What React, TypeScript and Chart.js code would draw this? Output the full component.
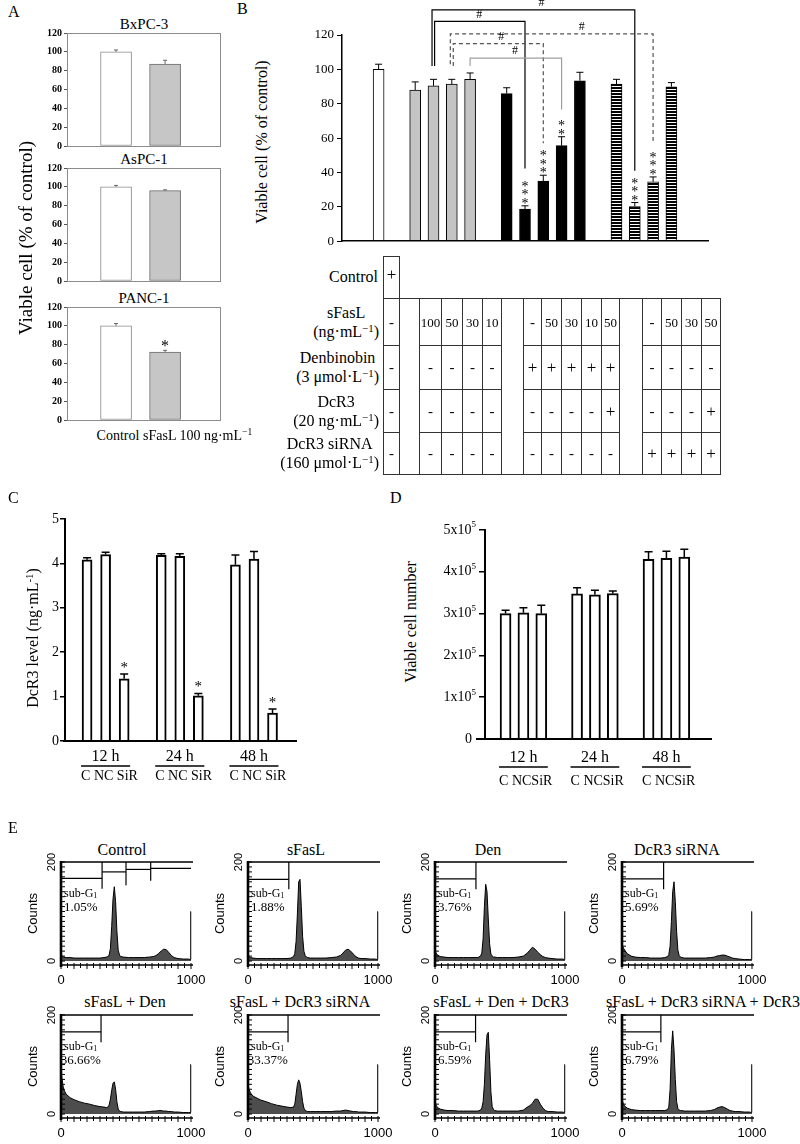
import React, { useEffect, useRef } from 'react';
import { Chart, registerables } from 'chart.js';

Chart.register(...registerables);

const SERIF = '"Liberation Serif", "Times New Roman", Times, serif';
const SANS = '"Liberation Sans", Arial, Helvetica, sans-serif';

// ---------------- Panel A data ----------------
const aCellLines = ['BxPC-3', 'AsPC-1', 'PANC-1'];
const aBxPC3 = [100, 87];
const aBxPC3Err = [2, 4];
const aAsPC1 = [100, 96];
const aAsPC1Err = [1.5, 0.8];
const aPANC1 = [100, 72];
const aPANC1Err = [2.5, 2];
const aPANC1Stars = ['', '*'];
const aNoStars = ['', ''];

// ---------------- Panel B data ----------------
const bSlots = ['g0', 'g1', 'Control', 'g3', 'sFasL 100', 'sFasL 50', 'sFasL 30', 'sFasL 10', 'g8', 'Den', 'Den+sFasL 50', 'Den+sFasL 30', 'Den+sFasL 10', 'Den+sFasL 50+DcR3', 'g14', 'siRNA', 'siRNA+sFasL 50', 'siRNA+sFasL 30', 'siRNA+sFasL 50+DcR3', 'g19', 'g20'];
const bValues = [null, null, 100, null, 88, 90.4, 91.4, 94.2, null, 85.9, 18.7, 35, 55.6, 93.4, null, 91.5, 20.2, 34.6, 89.9, null, null];
const bErrors = [null, null, 3, null, 4.7, 3.8, 2.8, 3.7, null, 3.4, 1.9, 3.4, 5.2, 4.9, null, 2.7, 2.3, 2.8, 2.4, null, null];
const bKinds = ['', '', 'control', '', 'sfasl', 'sfasl', 'sfasl', 'sfasl', '', 'den', 'den', 'den', 'den', 'den', '', 'sirna', 'sirna', 'sirna', 'sirna', '', ''];
const bStars = ['', '', '', '', '', '', '', '', '', '', '***', '***', '**', '', '', '', '***', '***', '', '', ''];
const bBrackets = [
  { from: 4.92, to: 16, top: 134.6, fromEnd: 102, toEnd: 41, dash: false, color: '#000000', hashAt: 10.9 },
  { from: 5.06, to: 10, top: 127.9, fromEnd: 102, toEnd: 42.3, dash: false, color: '#000000', hashAt: 7.5 },
  { from: 5.92, to: 17, top: 120.6, fromEnd: 103, toEnd: 57, dash: true, color: '#555555', hashAt: 13.1 },
  { from: 6.08, to: 11, top: 115, fromEnd: 102, toEnd: 57, dash: true, color: '#555555', hashAt: 8.7 },
  { from: 7, to: 12, top: 106.5, fromEnd: 102, toEnd: 76.6, dash: false, color: '#a0a0a0', hashAt: 9.45 },
];

// table under panel B
const tRowNames = ['sFasL', 'Denbinobin', 'DcR3', 'DcR3 siRNA'];
const tRowUnits = ['(ng·mL', '(3 μmol·L', '(20 ng·mL', '(160 μmol·L'];
const tSFasL = ['-', '', '100', '50', '30', '10', '', '-', '50', '30', '10', '50', '', '-', '50', '30', '50'];
const tDen = ['-', '', '-', '-', '-', '-', '', '+', '+', '+', '+', '+', '', '-', '-', '-', '-'];
const tDcR3 = ['-', '', '-', '-', '-', '-', '', '-', '-', '-', '-', '+', '', '-', '-', '-', '+'];
const tSiRNA = ['-', '', '-', '-', '-', '-', '', '-', '-', '-', '-', '-', '', '+', '+', '+', '+'];
const tGapCols = [1, 6, 12];
const tCols = [383, 399, 419, 441, 462, 482, 501, 523, 541, 561, 581, 601, 619, 642, 661, 681, 701, 720];
const tRows = [298, 345, 389, 432, 474];
const tCtrlTop = 256;

// ---------------- Panel C data ----------------
const cGroups = ['12 h', '24 h', '48 h'];
const cLevel12 = [4.08, 4.2, 1.4];
const cLevel24 = [4.18, 4.16, 1.02];
const cLevel48 = [3.97, 4.1, 0.63];
const cErr12 = [0.05, 0.05, 0.11];
const cErr24 = [0.04, 0.06, 0.05];
const cErr48 = [0.22, 0.17, 0.09];
const cStars = ['', '', '*', '', '', '*', '', '', '*'];

// ---------------- Panel D data (x 10^5 cells) ----------------
const dCount12 = [3.0, 3.02, 3.0];
const dCount24 = [3.47, 3.45, 3.48];
const dCount48 = [4.3, 4.32, 4.35];
const dErr12 = [0.08, 0.12, 0.2];
const dErr24 = [0.15, 0.11, 0.06];
const dErr48 = [0.18, 0.17, 0.19];
const dNoStars = ['', '', '', '', '', '', '', '', ''];

// ---------------- Panel E data ----------------
const eTitles = ['Control', 'sFasL', 'Den', 'DcR3 siRNA', 'sFasL + Den', 'sFasL + DcR3 siRNA', 'sFasL + Den + DcR3', 'sFasL + DcR3 siRNA + DcR3'];
const eSubG1 = ['1.05%', '1.88%', '3.76%', '5.69%', '36.66%', '33.37%', '6.59%', '6.79%'];
const eChannels = [0, 8, 20, 40, 70, 100, 140, 180, 220, 260, 300, 330, 350, 360, 370, 380, 390, 400, 410, 420, 430, 440, 450, 460, 480, 520, 560, 600, 640, 680, 710, 730, 750, 770, 790, 810, 830, 850, 870, 900, 940, 980, 996, 998, 1000];
const eControl = [12, 10, 8, 7, 7, 6, 6, 6, 6, 6, 6, 7, 8, 9, 12, 25, 70, 125, 150, 120, 60, 22, 12, 9, 8, 7, 7, 7, 7, 8, 9, 11, 15, 20, 24, 23, 17, 11, 7, 5, 4, 4, 3, 100, 100];
const eSFasL = [12, 9, 7, 6, 5, 5, 5, 5, 5, 5, 5, 6, 9, 15, 40, 95, 160, 165, 110, 50, 20, 11, 8, 7, 6, 6, 6, 6, 7, 8, 11, 16, 22, 24, 20, 14, 9, 6, 5, 5, 4, 4, 3, 100, 100];
const eDen = [22, 16, 12, 9, 8, 7, 7, 7, 7, 7, 7, 7, 10, 16, 45, 110, 155, 140, 85, 35, 14, 10, 8, 8, 7, 7, 7, 7, 8, 10, 16, 22, 28, 24, 18, 13, 9, 7, 6, 5, 4, 4, 3, 100, 100];
const eSiRNA = [35, 28, 22, 15, 10, 8, 7, 7, 6, 6, 6, 7, 9, 13, 30, 80, 140, 160, 120, 60, 22, 11, 8, 7, 6, 6, 6, 6, 6, 7, 8, 10, 11, 12, 12, 10, 8, 6, 5, 4, 3, 3, 3, 100, 100];
const eSFasLDen = [88, 70, 50, 40, 33, 29, 25, 22, 20, 17, 15, 14, 13, 14, 18, 30, 48, 62, 65, 50, 25, 10, 6, 5, 4, 4, 4, 4, 4, 5, 6, 6, 7, 7, 6, 6, 5, 5, 4, 4, 3, 3, 3, 100, 100];
const eSFasLSiRNA = [60, 50, 42, 36, 32, 28, 25, 21, 18, 16, 14, 13, 14, 20, 40, 60, 69, 62, 45, 25, 12, 7, 6, 5, 5, 5, 5, 5, 5, 6, 6, 7, 8, 7, 6, 5, 5, 4, 4, 4, 3, 3, 3, 100, 100];
const eSFasLDenDcR3 = [25, 18, 13, 10, 8, 7, 7, 6, 6, 6, 6, 6, 8, 12, 25, 60, 120, 160, 165, 110, 45, 15, 9, 7, 6, 6, 6, 6, 6, 8, 14, 17, 22, 30, 30, 20, 12, 7, 5, 5, 4, 4, 3, 100, 100];
const eSFasLSiRNADcR3 = [30, 22, 16, 12, 9, 8, 7, 7, 7, 7, 7, 7, 9, 14, 50, 130, 168, 130, 70, 25, 11, 8, 7, 7, 6, 6, 6, 6, 6, 7, 9, 12, 14, 15, 13, 10, 7, 6, 5, 5, 4, 4, 3, 100, 100];
const eCounts = [eControl, eSFasL, eDen, eSiRNA, eSFasLDen, eSFasLSiRNA, eSFasLDenDcR3, eSFasLSiRNADcR3];
const eGates = [
  [
    { from: 0, to: 316, h: 167, drop: 146 },
    { from: 316, to: 500, h: 180, drop: 153 },
    { from: 500, to: 690, h: 185, drop: 162 },
    { from: 690, to: 1000, h: 187, drop: null },
  ],
  [{ from: 0, to: 314, h: 165, drop: 145 }],
  [{ from: 0, to: 315, h: 166, drop: 145 }],
  [{ from: 0, to: 320, h: 166, drop: 145 }],
  [{ from: 0, to: 308, h: 166, drop: 145 }],
  [{ from: 0, to: 308, h: 166, drop: 145 }],
  [{ from: 0, to: 312, h: 166, drop: 145 }],
  [{ from: 0, to: 299, h: 166, drop: 145 }],
];

// ---------------- layout ----------------
const aBoxTops = [33, 168, 307];
const aBoxH = 113;
const eBoxLefts = [61, 248, 435, 622];
const eBoxTops = [862, 1015];
const eTitleX = [122, 306, 488, 677, 125, 300, 501, 703];
const eTitleY = [850, 1002];

// ---------------- helpers ----------------
const baseOptions = () => ({
  responsive: false,
  maintainAspectRatio: false,
  animation: false,
  devicePixelRatio: 1,
  events: [],
  plugins: { legend: { display: false }, tooltip: { enabled: false }, title: { display: false } },
});

function errorPlugin(values: any[], errs: any[], o: any) {
  return {
    id: 'errbars',
    afterDatasetsDraw(chart: any) {
      const ctx = chart.ctx;
      const ys = chart.scales.y;
      const meta = chart.getDatasetMeta(0);
      ctx.save();
      values.forEach((v: any, i: number) => {
        if (v == null) return;
        const el = meta.data[i];
        if (!el) return;
        const bx = el.x;
        const e = errs[i] || 0;
        const y0 = ys.getPixelForValue(v);
        const yt = ys.getPixelForValue(v + e);
        if (e) {
          ctx.strokeStyle = o.color;
          ctx.lineWidth = o.lw;
          ctx.beginPath();
          ctx.moveTo(bx, y0);
          ctx.lineTo(bx, yt);
          ctx.moveTo(bx - o.cap / 2, yt);
          ctx.lineTo(bx + o.cap / 2, yt);
          ctx.stroke();
        }
        const s = o.stars ? o.stars[i] : '';
        if (s) {
          ctx.fillStyle = '#000';
          ctx.font = o.starFont;
          ctx.textAlign = 'center';
          ctx.textBaseline = 'alphabetic';
          const m = ctx.measureText('*');
          const off = (m.actualBoundingBoxAscent - m.actualBoundingBoxDescent) / 2;
          for (let k = 0; k < s.length; k++) {
            const cy = yt - o.starGap - k * o.starStep;
            ctx.fillText('*', bx, cy + off);
          }
        }
      });
      ctx.restore();
    },
  };
}

const framePlugin = (color: string) => ({
  id: 'frame',
  afterDraw(chart: any) {
    const { ctx, chartArea: a } = chart;
    ctx.save();
    ctx.strokeStyle = color;
    ctx.lineWidth = 1;
    ctx.strokeRect(a.left + 0.5, a.top + 0.5, a.right - a.left - 1, a.bottom - a.top);
    ctx.restore();
  },
});

function makeStripePattern(): any {
  const c = document.createElement('canvas');
  c.width = 4;
  c.height = 3;
  const g = c.getContext('2d');
  if (!g) return '#555';
  g.fillStyle = '#ffffff';
  g.fillRect(0, 0, 4, 3);
  g.fillStyle = '#000000';
  g.fillRect(0, 0, 4, 2);
  return g.createPattern(c, 'repeat') || '#555';
}

function ChartCanvas({ x, y, w, h, build }: { x: number; y: number; w: number; h: number; build: () => any }) {
  const ref = useRef<HTMLCanvasElement | null>(null);
  useEffect(() => {
    if (!ref.current) return;
    const chart = new Chart(ref.current, build());
    return () => chart.destroy();
  }, []);
  return (
    <div style={{ position: 'absolute', left: x, top: y, width: w, height: h }}>
      <canvas ref={ref} width={w} height={h} style={{ width: w, height: h, display: 'block' }} />
    </div>
  );
}

const Sup = ({ c }: { c: string }) => (
  <sup style={{ fontSize: '0.68em', verticalAlign: '0.5em', lineHeight: 0 }}>{c}</sup>
);

function Txt({ x, y, children, size = 14, family = SERIF, align = 'center', rotate = false }: any) {
  const tx = align === 'left' ? '0' : align === 'right' ? '-100%' : '-50%';
  const style: any = {
    position: 'absolute',
    left: x,
    top: y,
    whiteSpace: 'nowrap',
    lineHeight: 1,
    fontSize: size,
    fontFamily: family,
    color: '#000',
    transform: rotate ? 'translate(-50%, -50%) rotate(-90deg)' : `translate(${tx}, -50%)`,
  };
  return <div style={style}>{children}</div>;
}

// ---------------- Panel A ----------------
function buildA(values: number[], errs: number[], stars: string[]) {
  return {
    type: 'bar',
    data: {
      datasets: [
        {
          data: values.map((v, i) => ({ x: i + 1, y: v })),
          backgroundColor: ['#ffffff', '#c6c6c6'],
          borderColor: ['#8a8a8a', '#6a6a6a'],
          borderWidth: 1,
          borderSkipped: false,
          barThickness: 31,
        },
      ],
    },
    options: {
      ...baseOptions(),
      layout: { padding: { left: 42, right: 19, top: 8, bottom: 8 } },
      scales: {
        x: { type: 'linear', min: 0, max: 3.14, offset: false, display: false },
        y: {
          min: 0,
          max: 120,
          ticks: { stepSize: 20, color: '#000', padding: 2, font: { family: SERIF, size: 10, weight: 'bold' } },
          grid: { drawOnChartArea: false, drawTicks: true, tickLength: 3, color: '#555' },
          border: { display: true, color: '#888', width: 1 },
          afterFit: (s: any) => {
            s.width = 25;
          },
        },
      },
    },
    plugins: [
      framePlugin('#8c8c8c'),
      errorPlugin(values, errs, { cap: 4, color: '#666', lw: 1, stars, starFont: `16px ${SERIF}`, starGap: 7, starStep: 8 }),
    ],
  };
}

// ---------------- Panel B ----------------
const bracketPlugin = {
  id: 'brackets',
  afterDatasetsDraw(chart: any) {
    const { ctx, scales } = chart;
    const x = scales.x;
    const y = scales.y;
    ctx.save();
    bBrackets.forEach((b) => {
      const xl = x.getPixelForValue(b.from);
      const xr = x.getPixelForValue(b.to);
      const yt = y.getPixelForValue(b.top);
      ctx.strokeStyle = b.color;
      ctx.lineWidth = 1.2;
      ctx.setLineDash(b.dash ? [4, 3] : []);
      ctx.beginPath();
      ctx.moveTo(xl, y.getPixelForValue(b.fromEnd));
      ctx.lineTo(xl, yt);
      ctx.lineTo(xr, yt);
      ctx.lineTo(xr, y.getPixelForValue(b.toEnd));
      ctx.stroke();
      ctx.setLineDash([]);
      ctx.fillStyle = '#000';
      ctx.font = `12px ${SERIF}`;
      ctx.textAlign = 'center';
      ctx.textBaseline = 'bottom';
      ctx.fillText('#', x.getPixelForValue(b.hashAt), yt - 1);
    });
    ctx.restore();
  },
};

function buildB() {
  const stripe = makeStripePattern();
  const fills = bKinds.map((k) =>
    k === 'control' ? '#ffffff' : k === 'sfasl' ? '#c4c4c4' : k === 'den' ? '#000000' : k === 'sirna' ? stripe : 'rgba(0,0,0,0)'
  );
  return {
    type: 'bar',
    data: {
      labels: bSlots,
      datasets: [
        { data: bValues, backgroundColor: fills, borderColor: '#000', borderWidth: 1, borderSkipped: false, barThickness: 11 },
      ],
    },
    options: {
      ...baseOptions(),
      layout: { padding: { left: 80, right: 92, top: 35, bottom: 4 } },
      scales: {
        x: {
          type: 'category',
          offset: false,
          ticks: { display: false },
          grid: { display: false, drawTicks: false },
          border: { display: true, color: '#000', width: 1.5 },
          afterFit: (s: any) => {
            s.height = 0;
          },
        },
        y: {
          min: 0,
          max: 120,
          ticks: { stepSize: 20, color: '#000', padding: 3, font: { family: SERIF, size: 13 } },
          grid: { drawOnChartArea: false, drawTicks: true, tickLength: 5, color: '#000' },
          border: { display: true, color: '#000', width: 1.5 },
          afterFit: (s: any) => {
            s.width = 30;
          },
        },
      },
    },
    plugins: [
      errorPlugin(bValues, bErrors, { cap: 7, color: '#000', lw: 1, stars: bStars, starFont: `14px ${SERIF}`, starGap: 5, starStep: 8.5 }),
      bracketPlugin,
    ],
  };
}

function TableB() {
  const els: any[] = [];
  const ln = (x: number, y: number, w: number, h: number, key: string) => (
    <div key={key} style={{ position: 'absolute', left: x, top: y, width: w, height: h, background: '#333' }} />
  );
  const last = tCols.length - 1;
  els.push(ln(tCols[0], tCtrlTop, tCols[1] - tCols[0] + 1, 1, 'ct'));
  els.push(ln(tCols[0], tCtrlTop, 1, tRows[0] - tCtrlTop, 'cl'));
  els.push(ln(tCols[1], tCtrlTop, 1, tRows[0] - tCtrlTop, 'cr'));
  tCols.forEach((c, i) => els.push(ln(c, tRows[0], 1, tRows[4] - tRows[0] + 1, 'v' + i)));
  els.push(ln(tCols[0], tRows[0], tCols[last] - tCols[0] + 1, 1, 'top'));
  els.push(ln(tCols[0], tRows[4], tCols[last] - tCols[0] + 1, 1, 'bot'));
  for (let r = 1; r <= 3; r++) {
    for (let j = 0; j < last; j++) {
      if (tGapCols.includes(j)) continue;
      els.push(ln(tCols[j], tRows[r], tCols[j + 1] - tCols[j], 1, `h${r}-${j}`));
    }
  }
  const rowsData = [tSFasL, tDen, tDcR3, tSiRNA];
  rowsData.forEach((row, r) => {
    row.forEach((t, j) => {
      if (!t) return;
      const cx = (tCols[j] + tCols[j + 1]) / 2 + 0.5;
      const cy = (tRows[r] + tRows[r + 1]) / 2;
      const size = t === '+' ? 17 : t === '-' ? 15 : 13;
      els.push(
        <Txt key={`c${r}-${j}`} x={cx} y={cy} size={size}>
          {t}
        </Txt>
      );
    });
  });
  els.push(
    <Txt key="ctrlplus" x={(tCols[0] + tCols[1]) / 2 + 0.5} y={(tCtrlTop + tRows[0]) / 2 - 3} size={17}>
      +
    </Txt>
  );
  els.push(
    <Txt key="ctrllab" x={378} y={(tCtrlTop + tRows[0]) / 2} size={16} align="right">
      Control
    </Txt>
  );
  tRowNames.forEach((n, r) => {
    els.push(
      <div
        key={'rl' + r}
        style={{
          position: 'absolute',
          left: 379,
          top: (tRows[r] + tRows[r + 1]) / 2,
          transform: 'translate(-100%, -50%)',
          textAlign: 'center',
          fontSize: 16,
          lineHeight: '19px',
          whiteSpace: 'nowrap',
          fontFamily: SERIF,
        }}
      >
        {n}
        <br />
        {tRowUnits[r]}
        <Sup c="−1" />)
      </div>
    );
  });
  return <>{els}</>;
}

// ---------------- Panels C & D ----------------
function groupedPlugin(o: any) {
  return {
    id: 'grouped',
    afterDraw(chart: any) {
      const { ctx, chartArea: a, scales } = chart;
      const x = scales.x;
      const y = scales.y;
      ctx.save();
      ctx.strokeStyle = '#000';
      ctx.lineWidth = 2;
      ctx.beginPath();
      ctx.moveTo(a.left - o.axisExtend, a.bottom);
      ctx.lineTo(a.right, a.bottom);
      ctx.stroke();
      ctx.fillStyle = '#000';
      const half = o.barW / 2;
      cGroups.forEach((g, gi) => {
        const x1 = x.getPixelForValue(gi * 4 + 1) - half;
        const x3 = x.getPixelForValue(gi * 4 + 3) + half;
        const xm = x.getPixelForValue(gi * 4 + 2);
        ctx.font = `16px ${SERIF}`;
        ctx.textAlign = 'center';
        ctx.textBaseline = 'middle';
        ctx.fillText(g, xm, a.bottom + o.titleDy);
        ctx.lineWidth = 1.5;
        ctx.beginPath();
        ctx.moveTo(x1 - 1, a.bottom + o.lineDy);
        ctx.lineTo(x3 + 1, a.bottom + o.lineDy);
        ctx.stroke();
        ctx.font = `14px ${SERIF}`;
        ctx.textAlign = 'left';
        ctx.fillText(o.subText, x1 - 1, a.bottom + o.subDy);
      });
      if (o.sciLabels) {
        ctx.textBaseline = 'middle';
        for (let v = 0; v <= 5; v++) {
          const py = y.getPixelForValue(v);
          const rx = a.left - 9;
          if (v === 0) {
            ctx.font = `14px ${SERIF}`;
            ctx.textAlign = 'right';
            ctx.fillText('0', rx - 4, py);
            continue;
          }
          ctx.font = `9px ${SERIF}`;
          const sw = ctx.measureText('5').width;
          ctx.textAlign = 'left';
          ctx.fillText('5', rx - sw, py - 5);
          ctx.font = `14px ${SERIF}`;
          ctx.textAlign = 'right';
          ctx.fillText(`${v}x10`, rx - sw, py);
        }
      }
      ctx.restore();
    },
  };
}

function buildGrouped(values: number[], errs: number[], stars: string[], o: any) {
  return {
    type: 'bar',
    data: {
      datasets: [
        {
          data: values.map((v, i) => ({ x: Math.floor(i / 3) * 4 + (i % 3) + 1, y: v })),
          backgroundColor: '#ffffff',
          borderColor: '#000',
          borderWidth: 2,
          borderSkipped: 'start',
          barThickness: o.barW,
        },
      ],
    },
    options: {
      ...baseOptions(),
      layout: { padding: o.padding },
      scales: {
        x: { type: 'linear', min: o.xMin, max: o.xMax, offset: false, display: false },
        y: {
          min: 0,
          max: 5,
          ticks: {
            stepSize: 1,
            color: '#000',
            padding: 1,
            font: { family: SERIF, size: 14 },
            callback: o.sciLabels ? () => '' : (v: any) => String(v),
          },
          grid: { drawOnChartArea: false, drawTicks: true, tickLength: o.tickLen, color: '#000', lineWidth: 1.5 },
          border: { display: true, color: '#000', width: 2 },
          afterFit: (s: any) => {
            s.width = o.axisW;
          },
        },
      },
    },
    plugins: [
      errorPlugin(values, errs, { cap: 8, color: '#000', lw: 1.5, stars, starFont: `15px ${SERIF}`, starGap: 9, starStep: 8 }),
      groupedPlugin(o),
    ],
  };
}

// ---------------- Panel E ----------------
function flowPlugin(pct: string, gates: any[]) {
  return {
    id: 'flow',
    afterDatasetsDraw(chart: any) {
      const { ctx, chartArea: a, scales } = chart;
      const x = scales.x;
      const y = scales.y;
      const yTop = y.getPixelForValue(200);
      const seg = (x1: number, y1: number, x2: number, y2: number, lw: number) => {
        ctx.lineWidth = lw;
        ctx.beginPath();
        ctx.moveTo(x1, y1);
        ctx.lineTo(x2, y2);
        ctx.stroke();
      };
      ctx.save();
      ctx.strokeStyle = '#000';
      seg(a.left, yTop, a.right + 2, yTop, 1.6);
      seg(a.left, a.bottom, a.right + 2, a.bottom, 1.6);
      for (let v = 0; v <= 1000; v += 50) {
        const px = x.getPixelForValue(v);
        seg(px, a.bottom - 2, px, a.bottom + (v % 100 === 0 ? 4 : 3), 1);
      }
      seg(a.left, yTop - 1, a.left, a.bottom + 2, 2.6);
      for (let v = 0; v <= 200; v += 10) {
        const py = y.getPixelForValue(v);
        seg(a.left, py, a.left + 4, py, 1);
      }
      gates.forEach((g: any) => {
        const yh = y.getPixelForValue(g.h);
        seg(x.getPixelForValue(g.from), yh, x.getPixelForValue(g.to), yh, 1.2);
        if (g.drop != null) seg(x.getPixelForValue(g.to), yTop, x.getPixelForValue(g.to), y.getPixelForValue(g.drop), 1.2);
      });
      ctx.fillStyle = '#000';
      ctx.font = `13px ${SANS}`;
      ctx.textAlign = 'center';
      ctx.textBaseline = 'middle';
      ctx.fillText('0', x.getPixelForValue(0), a.bottom + 15);
      ctx.fillText('1000', x.getPixelForValue(1000), a.bottom + 15);
      const rot = (txt: string, cx: number, cy: number, font: string) => {
        ctx.save();
        ctx.translate(cx, cy);
        ctx.rotate(-Math.PI / 2);
        ctx.font = font;
        ctx.textAlign = 'center';
        ctx.textBaseline = 'middle';
        ctx.fillText(txt, 0, 0);
        ctx.restore();
      };
      rot('200', a.left - 9, yTop, `11px ${SANS}`);
      rot('0', a.left - 9, y.getPixelForValue(0), `11px ${SANS}`);
      rot('Counts', a.left - 28, (yTop + a.bottom) / 2, `13px ${SANS}`);
      // sub-G1 label
      const tx = a.left + 3;
      const ty = a.top + 32;
      ctx.textAlign = 'left';
      ctx.font = `12px ${SERIF}`;
      ctx.fillText('sub-G', tx, ty);
      const w = ctx.measureText('sub-G').width;
      ctx.font = `8px ${SERIF}`;
      ctx.fillText('1', tx + w, ty + 2);
      ctx.font = `13px ${SERIF}`;
      ctx.textAlign = 'center';
      ctx.fillText(pct, tx + (w + 4) / 2, ty + 14);
      ctx.restore();
    },
  };
}

function buildE(idx: number) {
  const counts = eCounts[idx];
  return {
    type: 'line',
    data: {
      datasets: [
        {
          data: eChannels.map((c, i) => ({ x: c, y: counts[i] })),
          fill: 'origin',
          backgroundColor: '#4d4d4d',
          borderColor: '#000',
          borderWidth: 1,
          pointRadius: 0,
          tension: 0,
          clip: 3,
        },
      ],
    },
    options: {
      ...baseOptions(),
      layout: { padding: { left: 45, right: 20, top: 12, bottom: 26 } },
      scales: {
        x: { type: 'linear', min: 0, max: 1000, display: false },
        y: { type: 'linear', min: -8, max: 200, display: false },
      },
    },
    plugins: [flowPlugin(eSubG1[idx], eGates[idx])],
  };
}

// ---------------- App ----------------
export default function App() {
  const aData = [
    [aBxPC3, aBxPC3Err, aNoStars],
    [aAsPC1, aAsPC1Err, aNoStars],
    [aPANC1, aPANC1Err, aPANC1Stars],
  ];
  const cValues = [cLevel12, cLevel24, cLevel48].flat();
  const cErrs = [cErr12, cErr24, cErr48].flat();
  const dValues = [dCount12, dCount24, dCount48].flat();
  const dErrs = [dErr12, dErr24, dErr48].flat();

  return (
    <div
      style={{
        position: 'absolute',
        left: 0,
        top: 0,
        width: 800,
        height: 1144,
        background: '#fff',
        overflow: 'hidden',
        fontFamily: SERIF,
        color: '#000',
      }}
    >
      {/* Panel A */}
      <Txt x={8} y={12} size={16} align="left">A</Txt>
      {aCellLines.map((name, i) => (
        <Txt key={'at' + i} x={144} y={aBoxTops[i] - 9} size={15}>
          {name}
        </Txt>
      ))}
      {aData.map((d, i) => (
        <ChartCanvas
          key={'a' + i}
          x={0}
          y={aBoxTops[i] - 8}
          w={240}
          h={aBoxH + 16}
          build={() => buildA(d[0] as number[], d[1] as number[], d[2] as string[])}
        />
      ))}
      <Txt x={118} y={436} size={14}>Control</Txt>
      <Txt x={143} y={436} size={14} align="left">
        sFasL 100 ng·mL<Sup c="−1" />
      </Txt>
      <Txt x={25} y={238} size={19} rotate>
        Viable cell (% of control)
      </Txt>

      {/* Panel B */}
      <Txt x={237} y={9} size={16} align="left">B</Txt>
      <Txt x={262} y={142} size={16} rotate>
        Viable cell (% of control)
      </Txt>
      <ChartCanvas x={232} y={0} w={568} h={252} build={buildB} />
      <TableB />

      {/* Panel C */}
      <Txt x={8} y={498} size={16} align="left">C</Txt>
      <Txt x={33} y={638} size={16} rotate>
        DcR3 level (ng·mL<Sup c="-1" />)
      </Txt>
      <ChartCanvas
        x={0}
        y={505}
        w={310}
        h={285}
        build={() =>
          buildGrouped(cValues, cErrs, cStars, {
            padding: { left: 45, right: 13, top: 14, bottom: 49 },
            axisW: 20,
            tickLen: 5,
            xMin: -0.19,
            xMax: 12.32,
            barW: 10,
            axisExtend: 2,
            titleDy: 16,
            lineDy: 25,
            subDy: 35,
            subText: 'C NC SiR',
            sciLabels: false,
          })
        }
      />

      {/* Panel D */}
      <Txt x={390} y={498} size={16} align="left">D</Txt>
      <Txt x={411} y={622} size={16} rotate>
        Viable cell number
      </Txt>
      <ChartCanvas
        x={400}
        y={505}
        w={320}
        h={285}
        build={() =>
          buildGrouped(dValues, dErrs, dNoStars, {
            padding: { left: 75, right: 8, top: 25, bottom: 51 },
            axisW: 10,
            tickLen: 6,
            xMin: -0.15,
            xMax: 12.55,
            barW: 11,
            axisExtend: 9,
            titleDy: 19,
            lineDy: 28,
            subDy: 42,
            subText: 'C NCSiR',
            sciLabels: true,
          })
        }
      />

      {/* Panel E */}
      <Txt x={8} y={828} size={16} align="left">E</Txt>
      {eTitles.map((t, i) => (
        <Txt key={'et' + i} x={eTitleX[i]} y={eTitleY[Math.floor(i / 4)]} size={16}>
          {t}
        </Txt>
      ))}
      {eTitles.map((t, i) => (
        <ChartCanvas
          key={'e' + i}
          x={eBoxLefts[i % 4] - 45}
          y={eBoxTops[Math.floor(i / 4)] - 12}
          w={195}
          h={141}
          build={() => buildE(i)}
        />
      ))}
    </div>
  );
}
